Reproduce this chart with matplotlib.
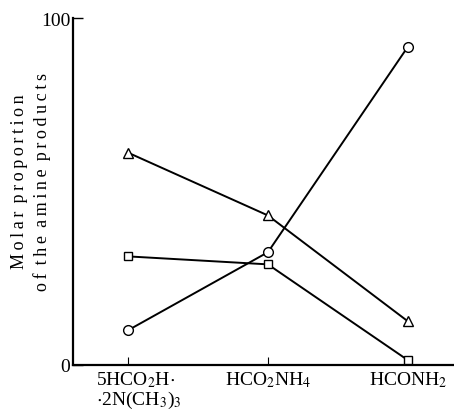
import matplotlib
matplotlib.use("Agg")
import matplotlib.pyplot as plt
from matplotlib.transforms import ScaledTranslation

categories = [r"5HCO$_2$H$\cdot$" "\n" r"$\cdot$2N(CH$_3$)$_3$", r"HCO$_2$NH$_4$", r"HCONH$_2$"]
circle_vals = [10, 32.5, 91.7]
triangle_vals = [61.2, 43.1, 12.6]
square_vals = [31.3, 29.0, 1.4]

plt.rcParams['font.family'] = ['Liberation Serif', 'DejaVu Serif']
plt.rcParams['mathtext.fontset'] = 'stix'

fig = plt.figure(figsize=(4.54, 4.10), dpi=100)
ax = fig.add_axes([73/454, 44/410, 1 - 73/454, (366-19)/410])

x = list(range(len(categories)))
kw = dict(color='black', lw=1.4, markerfacecolor='white', markeredgecolor='black', markeredgewidth=1.0, zorder=3)
ax.plot(x, circle_vals, marker='o', ms=7, **kw)
ax.plot(x, triangle_vals, marker='^', ms=7, **kw)
ax.plot(x, square_vals, marker='s', ms=6, clip_on=False, **kw)

ax.set_xlim(-0.393, 2.33)
ax.set_ylim(0, 100)
ax.spines['top'].set_visible(False)
ax.spines['right'].set_visible(False)
ax.spines['left'].set_linewidth(1.6)
ax.spines['bottom'].set_linewidth(1.6)

ax.set_xticks(x)
ax.set_xticklabels(categories, fontsize=14, linespacing=1.0)
ax.set_yticks([0, 100])
ax.set_yticklabels(['0', '100'], fontsize=14)
ax.tick_params(axis='x', direction='in', length=6, width=0.8, pad=3)
ax.tick_params(axis='y', direction='in', length=7, width=1.0, pad=2)
first = ax.get_xticklabels()[0]
first.set_multialignment('left')
first.set_transform(first.get_transform() + ScaledTranslation(11/100, 0, fig.dpi_scale_trans))

ts = "\u2009"
def spaced(s):
    return (ts + " ").join(ts.join(w) for w in s.split(" "))
ylabel = spaced("Molar proportion") + "\n" + spaced("of the amine products")
fig.text(31/454, 1 - 182/410, ylabel, rotation=90, ha='center', va='center',
         fontsize=13, linespacing=1.3, multialignment='center')

fig.savefig("out.png", dpi=100)
